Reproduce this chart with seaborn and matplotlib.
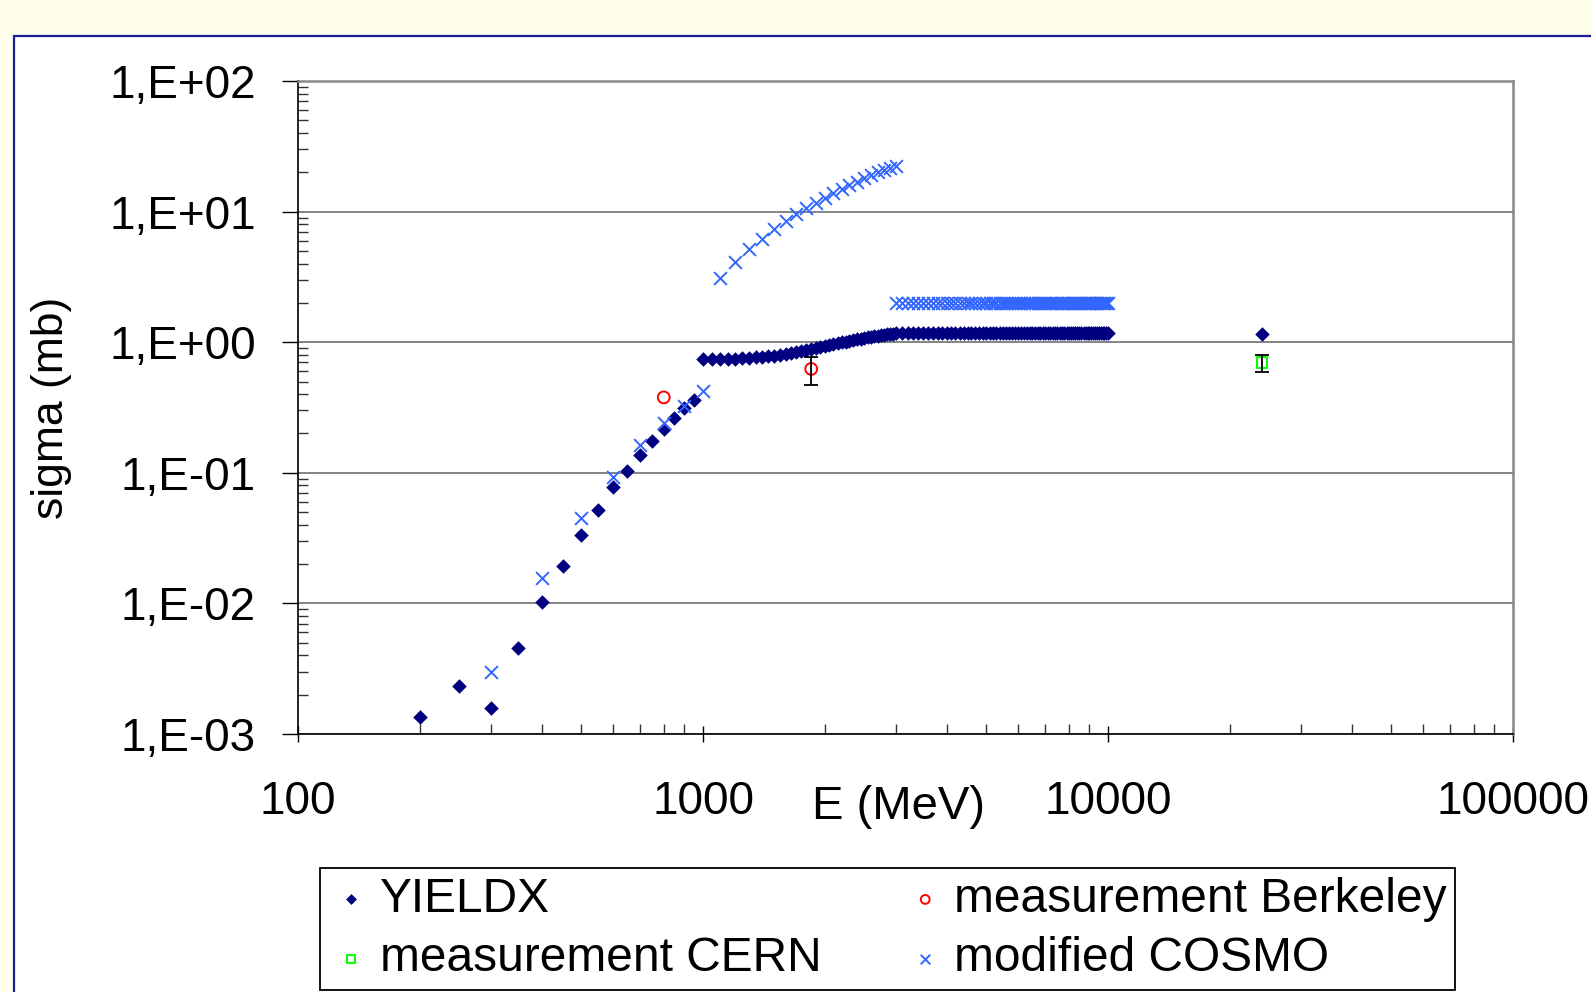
import numpy as np
import pandas as pd
import matplotlib
matplotlib.use('Agg')
import matplotlib.pyplot as plt
import seaborn as sns
from matplotlib.ticker import LogLocator, FuncFormatter, NullFormatter, FixedLocator
from matplotlib.patches import Rectangle

# ============================================================
# Data
# ============================================================
# YIELDX: 200-950 MeV, 50 MeV grid
yieldx_e_low = np.arange(200, 1000, 50)
yieldx_s_low = [0.00136, 0.00232, 0.00157, 0.00458, 0.0102, 0.0195, 0.0332, 0.0517,
                0.0772, 0.104, 0.138, 0.176, 0.216, 0.262, 0.314, 0.358]

# YIELDX: 1000-3000 MeV, 50 MeV grid
yieldx_e_mid = np.arange(1000, 3050, 50)
yieldx_s_mid = [0.75, 0.75, 0.75, 0.75, 0.75, 0.755, 0.76, 0.765, 0.77, 0.78,
                0.79, 0.80, 0.815, 0.83, 0.845, 0.86, 0.875, 0.89, 0.905, 0.92,
                0.935, 0.95, 0.965, 0.98, 0.995, 1.01, 1.025, 1.04, 1.05, 1.065,
                1.075, 1.09, 1.10, 1.11, 1.12, 1.13, 1.14, 1.15, 1.16, 1.165,
                1.17]

# YIELDX: 3100-10000 MeV plateau, 100 MeV grid
yieldx_e_high = np.arange(3100, 10100, 100)
yieldx_s_high = [1.17, 1.17, 1.17, 1.17, 1.17, 1.17, 1.17, 1.17, 1.17, 1.17,
                 1.17, 1.17, 1.17, 1.17, 1.17, 1.17, 1.17, 1.17, 1.17, 1.17,
                 1.17, 1.17, 1.17, 1.17, 1.17, 1.17, 1.17, 1.17, 1.17, 1.17,
                 1.17, 1.17, 1.17, 1.17, 1.17, 1.17, 1.17, 1.17, 1.17, 1.17,
                 1.17, 1.17, 1.17, 1.17, 1.17, 1.17, 1.17, 1.17, 1.17, 1.17,
                 1.17, 1.17, 1.17, 1.17, 1.17, 1.17, 1.17, 1.17, 1.17, 1.17,
                 1.17, 1.17, 1.17, 1.17, 1.17, 1.17, 1.17, 1.17, 1.17, 1.17]

# YIELDX: single point at 24 GeV
yieldx_e_far = [24000]
yieldx_s_far = [1.16]

# modified COSMO: 300-1000 MeV
cosmo_e_low = [300, 400, 500, 600, 700, 800, 900, 1000]
cosmo_s_low = [0.0030, 0.0156, 0.0453, 0.0933, 0.163, 0.242, 0.327, 0.423]

# modified COSMO: 1100-3000 MeV upper branch
cosmo_e_up = np.arange(1100, 3100, 100)
cosmo_s_up = [3.08, 4.13, 5.17, 6.17, 7.36, 8.43, 9.53, 10.6, 11.6, 12.6,
              13.8, 14.8, 16.0, 16.9, 18.0, 19.1, 20.0, 21.0, 21.6, 22.2]

# modified COSMO: 3000-10000 MeV band
cosmo_e_band = np.arange(3000, 10100, 100)
cosmo_s_band = [2.0, 2.0, 2.0, 2.0, 2.0, 2.0, 2.0, 2.0, 2.0, 2.0,
                2.0, 2.0, 2.0, 2.0, 2.0, 2.0, 2.0, 2.0, 2.0, 2.0,
                2.0, 2.0, 2.0, 2.0, 2.0, 2.0, 2.0, 2.0, 2.0, 2.0,
                2.0, 2.0, 2.0, 2.0, 2.0, 2.0, 2.0, 2.0, 2.0, 2.0,
                2.0, 2.0, 2.0, 2.0, 2.0, 2.0, 2.0, 2.0, 2.0, 2.0,
                2.0, 2.0, 2.0, 2.0, 2.0, 2.0, 2.0, 2.0, 2.0, 2.0,
                2.0, 2.0, 2.0, 2.0, 2.0, 2.0, 2.0, 2.0, 2.0, 2.0,
                2.0]

# measurements
berkeley_e = [800, 1850]
berkeley_s = [0.378, 0.624]
berkeley_err_lo = [0.0, 0.154]
berkeley_err_hi = [0.0, 0.150]

cern_e = [24000]
cern_s = [0.70]
cern_err_lo = [0.105]
cern_err_hi = [0.105]

y_ticks = [1e-3, 1e-2, 1e-1, 1e0, 1e1, 1e2]
x_ticks = [100, 1000, 10000, 100000]

yieldx = pd.DataFrame({
    'E': np.concatenate([yieldx_e_low, yieldx_e_mid, yieldx_e_high, yieldx_e_far]),
    'sigma': yieldx_s_low + yieldx_s_mid + yieldx_s_high + yieldx_s_far,
})
cosmo = pd.DataFrame({
    'E': np.concatenate([cosmo_e_low, cosmo_e_up, cosmo_e_band]),
    'sigma': cosmo_s_low + cosmo_s_up + cosmo_s_band,
})
berkeley = pd.DataFrame({'E': berkeley_e, 'sigma': berkeley_s})
cern = pd.DataFrame({'E': cern_e, 'sigma': cern_s})

# ============================================================
# Style
# ============================================================
sns.set_style('white')
plt.rcParams['font.family'] = ['Liberation Sans', 'DejaVu Sans']
plt.rcParams['text.color'] = 'black'
plt.rcParams['axes.labelcolor'] = 'black'
plt.rcParams['xtick.color'] = 'black'
plt.rcParams['ytick.color'] = 'black'

W, H = 1591, 992
fig = plt.figure(figsize=(W / 100, H / 100), dpi=100)
fig.patch.set_facecolor('#fefeea')

# white panel with dark blue border (behind the axes)
fig.patches.append(Rectangle((14 / W, -0.02), 1.0, 1.02 - 36 / H, transform=fig.transFigure,
                             facecolor='white', edgecolor='#1a1a9a', lw=1.6, zorder=-10))

ax = fig.add_axes([298 / W, 1 - 734 / H, (1513 - 298) / W, (734 - 81) / H])
ax.set_facecolor('white')

sns.scatterplot(data=yieldx, x='E', y='sigma', marker='D', s=55, color='#000080',
                edgecolor='#000080', linewidth=0, label='YIELDX', ax=ax, zorder=3)
sns.scatterplot(data=cosmo, x='E', y='sigma', marker='x', s=85, color='#3366ff',
                linewidth=1.4, label='modified COSMO', ax=ax, zorder=4)
sns.scatterplot(data=berkeley, x='E', y='sigma', marker='o', s=72, color='#ff0000',
                facecolor='none', edgecolor='#ff0000', linewidth=1.4,
                label='measurement Berkeley', ax=ax, zorder=5)
sns.scatterplot(data=cern, x='E', y='sigma', marker='s', s=62, color='#00ff00',
                facecolor='none', edgecolor='#00ff00', linewidth=1.4,
                label='measurement CERN', ax=ax, zorder=5)

ax.errorbar(berkeley_e[1:], berkeley_s[1:], yerr=[berkeley_err_lo[1:], berkeley_err_hi[1:]],
            fmt='none', ecolor='black', elinewidth=1.3, capsize=5, capthick=1.3, zorder=6)
ax.errorbar(cern_e, cern_s, yerr=[cern_err_lo, cern_err_hi],
            fmt='none', ecolor='black', elinewidth=1.3, capsize=5, capthick=1.3, zorder=6)

ax.set_xscale('log')
ax.set_yscale('log')
ax.set_xlim(100, 100000)
ax.set_ylim(1e-3, 1e2)

ax.xaxis.set_major_locator(FixedLocator(x_ticks))
ax.xaxis.set_major_formatter(FuncFormatter(lambda v, p: f'{int(round(v))}'))
ax.xaxis.set_minor_locator(LogLocator(base=10, subs=range(2, 10)))
ax.xaxis.set_minor_formatter(NullFormatter())
ax.yaxis.set_major_locator(FixedLocator(y_ticks))
ax.yaxis.set_major_formatter(
    FuncFormatter(lambda v, p: f'1,E{int(round(np.log10(v))):+03d}'))
ax.yaxis.set_minor_locator(LogLocator(base=10, subs=range(2, 10)))
ax.yaxis.set_minor_formatter(NullFormatter())

ax.tick_params(axis='y', which='major', direction='out', length=11.5, width=1,
               pad=19, labelsize=33, color='black', labelcolor='black', left=True)
ax.tick_params(axis='y', which='minor', direction='in', length=7, width=1,
               color='#333333', left=True)
ax.tick_params(axis='x', which='major', direction='inout', length=12, width=1,
               pad=27, labelsize=33, color='black', labelcolor='black', bottom=True)
ax.tick_params(axis='x', which='minor', direction='in', length=7, width=1,
               color='#333333', bottom=True)

ax.yaxis.grid(True, which='major', color='#6f6f6f', lw=1.2)
ax.xaxis.grid(False)
ax.set_axisbelow(True)

for side in ['top', 'right']:
    ax.spines[side].set_color('#888888')
    ax.spines[side].set_linewidth(1.8)
for side in ['left', 'bottom']:
    ax.spines[side].set_color('black')
    ax.spines[side].set_linewidth(1.2)

ax.set_xlabel('E (MeV)', fontsize=34, color='black')
ax.xaxis.set_label_coords((898 - 298) / 1215, -0.078)
ax.set_ylabel('sigma (mb)', fontsize=32, color='black')
ax.yaxis.set_label_coords(-0.186, 0.5)

# legend: YIELDX / CERN in column 1, Berkeley / COSMO in column 2
handles, labels = ax.get_legend_handles_labels()
lookup = dict(zip(labels, handles))
order = ['YIELDX', 'measurement CERN', 'measurement Berkeley', 'modified COSMO']
leg_ax = ax.get_legend()
if leg_ax is not None:
    leg_ax.remove()
leg = fig.legend([lookup[k] for k in order], order, ncol=2, fontsize=34.5,
                 loc='lower left', bbox_to_anchor=(320 / W, 2 / H, (1455 - 320) / W, 123 / H),
                 mode='expand', borderaxespad=0, frameon=True, fancybox=False,
                 edgecolor='black', framealpha=1, markerscale=0.75,
                 handlelength=0.95, handletextpad=0.12, borderpad=0.18, labelspacing=0.3)
leg.get_frame().set_linewidth(1.3)
for t in leg.get_texts():
    t.set_color('black')

fig.savefig('out.png', dpi=100)
plt.close(fig)
